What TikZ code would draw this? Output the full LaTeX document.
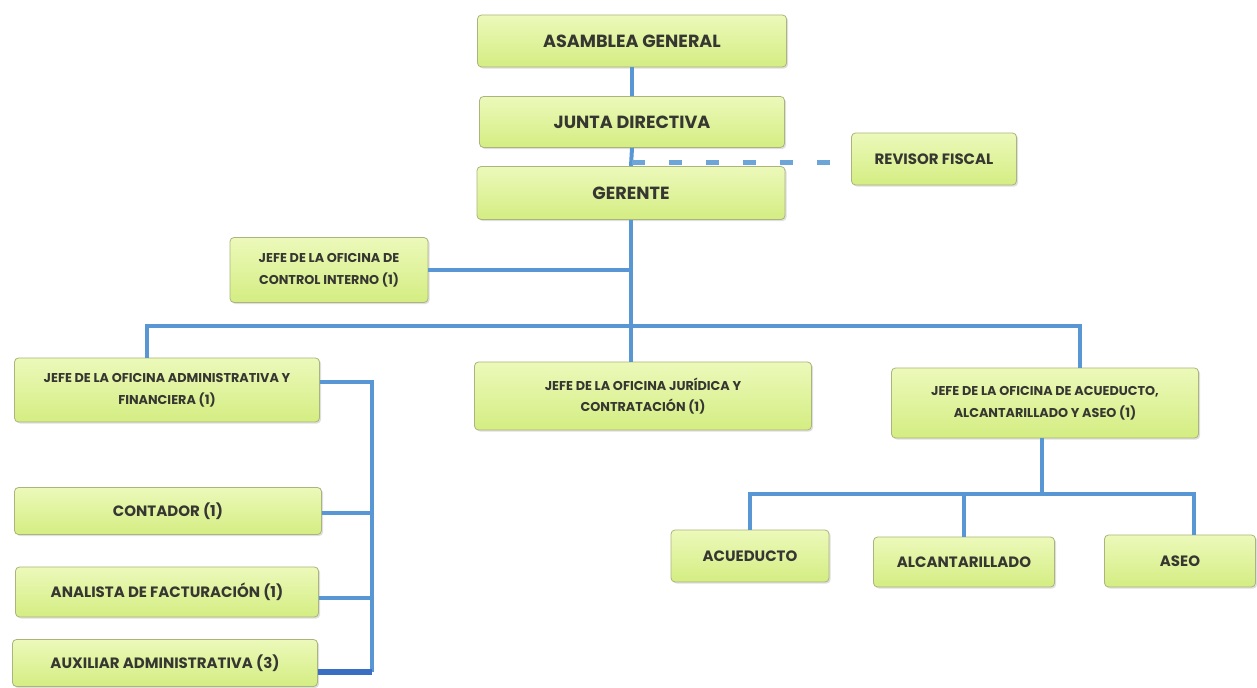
\documentclass[tikz,border=0pt]{standalone}
\usepackage{fontspec}
\setmainfont{Poppins}
\usetikzlibrary{shadows}
\definecolor{azul}{RGB}{88,150,212}
\definecolor{azulclaro}{RGB}{110,165,215}
\definecolor{azuloscuro}{RGB}{58,110,196}
\definecolor{verdeclaro}{RGB}{236,249,186}
\definecolor{verde}{RGB}{212,237,130}
\definecolor{borde}{RGB}{170,180,125}
\definecolor{texto}{RGB}{55,55,50}
\tikzset{
  cargo/.style={draw=borde, top color=verdeclaro, bottom color=verde, rounded corners=2pt,
    drop shadow={shadow xshift=0.8pt, shadow yshift=-0.8pt, opacity=0.25},
    text=texto, font=\bfseries\fontsize{8.8}{10}\selectfont, align=center, inner sep=0pt},
  medio/.style={font=\bfseries\fontsize{7.5}{9}\selectfont},
  chico/.style={font=\bfseries\fontsize{6.4}{10.8}\selectfont},
  enlace/.style={draw=azul, line width=2pt},
}
\begin{document}
\begin{tikzpicture}[x=0.5pt,y=-0.5pt]
\useasboundingbox (0,0) rectangle (1257,688);
\node[cargo, minimum width=154.5pt, minimum height=26pt] (asamblea) at (632,41) {ASAMBLEA GENERAL};
\node[cargo, minimum width=152.5pt, minimum height=25.5pt] (junta) at (632,122) {JUNTA DIRECTIVA};
\node[cargo, minimum width=154pt, minimum height=26.5pt] (gerente) at (631,193) {GERENTE};
\node[cargo, medio, minimum width=82.5pt, minimum height=26pt] (revisor) at (934,159) {REVISOR FISCAL};
\node[cargo, chico, minimum width=99pt, minimum height=32.5pt] (control) at (329,270) {JEFE DE LA OFICINA DE\\CONTROL INTERNO (1)};
\node[cargo, chico, minimum width=152.5pt, minimum height=32pt] (admin) at (167,390) {JEFE DE LA OFICINA ADMINISTRATIVA Y\\FINANCIERA (1)};
\node[cargo, chico, minimum width=168.5pt, minimum height=34pt] (juridica) at (643,396) {JEFE DE LA OFICINA JURÍDICA Y\\CONTRATACIÓN (1)};
\node[cargo, chico, minimum width=153.5pt, minimum height=35pt] (jefeacu) at (1045,403) {JEFE DE LA OFICINA DE ACUEDUCTO,\\ALCANTARILLADO Y ASEO (1)};
\node[cargo, medio, minimum width=153.5pt, minimum height=23.5pt] (contador) at (168,511) {CONTADOR (1)};
\node[cargo, medio, minimum width=151.5pt, minimum height=25pt] (analista) at (167,592) {ANALISTA DE FACTURACIÓN (1)};
\node[cargo, medio, minimum width=152.5pt, minimum height=23.5pt] (auxiliar) at (165,663) {AUXILIAR ADMINISTRATIVA (3)};
\node[cargo, medio, minimum width=79pt, minimum height=26pt] (acueducto) at (750,556) {ACUEDUCTO};
\node[cargo, medio, minimum width=90.5pt, minimum height=25pt] (alcantarillado) at (964,562) {ALCANTARILLADO};
\node[cargo, medio, minimum width=75.5pt, minimum height=26pt] (aseo) at (1180,561) {ASEO};
% lineas de mando
\draw[enlace] (asamblea.south) -- (junta.north);
\draw[enlace] (junta.south) -- (gerente.north);
\draw[enlace] (gerente.south) -- (gerente.south |- juridica.north);
\draw[azulclaro, line width=2.5pt, dash pattern=on 6.5pt off 12pt] ([yshift=-2pt]revisor.west -| junta.south) -- ([yshift=-2pt]revisor.west);
\draw[enlace] (control.east) -- (control.east -| gerente.south);
\coordinate (busizq) at (147,326);
\coordinate (busder) at (1080,326);
\draw[enlace] (busizq |- admin.north) -- (busizq) -- (busder) -- (busder |- jefeacu.north);
\coordinate (ramal) at (1042,494);
\coordinate (ramalder) at (1194,494);
\draw[enlace] (jefeacu.south -| ramal) -- (ramal);
\draw[enlace] (acueducto.north) |- (ramalder) -- (ramalder |- aseo.north);
\draw[enlace] (alcantarillado.north) -- (alcantarillado.north |- ramal);
\coordinate (lateral) at (372,0);
\draw[enlace] ([yshift=4pt]admin.east) -| ([yshift=-4.5pt]auxiliar.east -| lateral);
\draw[enlace] ([yshift=-1pt]contador.east) -- ([yshift=-1pt]contador.east -| lateral);
\draw[enlace] ([yshift=-3pt]analista.east) -- ([yshift=-3pt]analista.east -| lateral);
\draw[azuloscuro, line width=2.8pt] ([yshift=-4.5pt]auxiliar.east) -- ([yshift=-4.5pt]auxiliar.east -| lateral);
\end{tikzpicture}
\end{document}
